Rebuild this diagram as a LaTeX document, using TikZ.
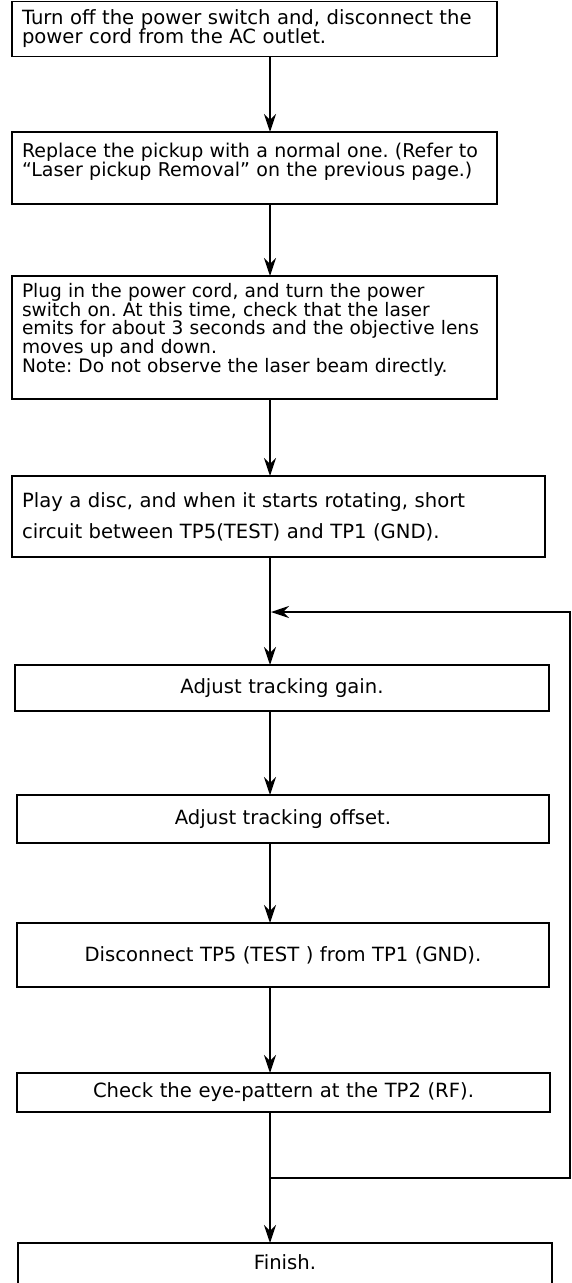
\documentclass[tikz,border=0pt]{standalone}
\usepackage{fontspec}
\setmainfont{DejaVu Sans}
\frenchspacing
\hbadness=10000 \hfuzz=40pt
\usetikzlibrary{arrows.meta, positioning, calc}

\begin{document}
\begin{tikzpicture}[x=1pt, y=-1pt, >={Stealth[length=18pt, width=12pt, inset=6pt]},
        box/.style={draw, line width=1.8pt, anchor=north west, outer sep=0pt,
                    inner xsep=10pt, inner ysep=2pt, align=left,
                    font=\fontsize{19.6}{19}\selectfont},
        midbox/.style={box, align=center},
        flow/.style={->, line width=2.2pt}]
      \useasboundingbox (0,0) rectangle (572,1283);
      \coordinate (spine) at (270,0);

      \node[box, minimum width=485pt, minimum height=55pt, text width=465pt] (S1) at (12,1.5)
        {\mbox{Turn off the power switch and, disconnect the}\\ power cord from the AC outlet.};
      \node[box, minimum width=485pt, minimum height=72pt, text width=465pt,
            font=\fontsize{19}{17}\selectfont] (S2) at (12,132)
        {\mbox{Replace the pickup with a normal one. (Refer to}\\ “Laser pickup Removal” on the previous page.)\par\rule{0pt}{10pt}};
      \node[box, minimum width=485pt, minimum height=123pt, text width=465pt,
            font=\fontsize{18.6}{18}\selectfont] (S3) at (12,276)
        {Plug in the power cord, and turn the power\\ switch on. At this time, check that the laser\\
         \mbox{emits for about 3 seconds and the objective lens}\\ moves up and down.\\
         \mbox{Note: Do not observe the laser beam directly.}\par\rule{0pt}{15pt}};
      \node[box, minimum width=533pt, minimum height=81pt, text width=513pt] (S4) at (12,476)
        {Play a disc, and when it starts rotating, short\\[12pt] circuit between TP5(TEST) and TP1 (GND).};
      \node[midbox, minimum width=534pt, minimum height=46pt, text width=514pt] (S5) at (15,665)
        {Adjust tracking gain.};
      \node[midbox, minimum width=532pt, minimum height=48pt, text width=512pt] (S6) at (17,795)
        {Adjust tracking offset.};
      \node[midbox, minimum width=532pt, minimum height=64pt, text width=512pt] (S7) at (17,923)
        {Disconnect TP5 (TEST ) from TP1 (GND).};
      \node[midbox, minimum width=533pt, minimum height=39pt, text width=513pt] (S8) at (17,1073)
        {Check the eye-pattern at the TP2 (RF).};
      \node[midbox, minimum width=534pt, minimum height=52pt, text width=514pt, text depth=14pt] (fin) at (18,1243)
        {Finish.};

      % main line
      \draw[flow] (S1.south -| spine) -- (S2.north -| spine);
      \draw[flow] (S2.south -| spine) -- (S3.north -| spine);
      \draw[flow] (S3.south -| spine) -- (S4.north -| spine);
      \draw[flow] (S4.south -| spine) -- (S5.north -| spine);
      \draw[flow] (S5.south -| spine) -- (S6.north -| spine);
      \draw[flow] (S6.south -| spine) -- (S7.north -| spine);
      \draw[flow] (S7.south -| spine) -- (S8.north -| spine);
      \draw[flow] (S8.south -| spine) -- (fin.north -| spine);

      % loop back
      \coordinate (split) at (270,1178);
      \coordinate (merge) at (271,612);
      \coordinate (rbot) at (570,1178);
      \coordinate (rtop) at (570,612);
      \draw[flow] (split) -- (rbot) -- (rtop) -- (merge);
    \end{tikzpicture}
\end{document}
